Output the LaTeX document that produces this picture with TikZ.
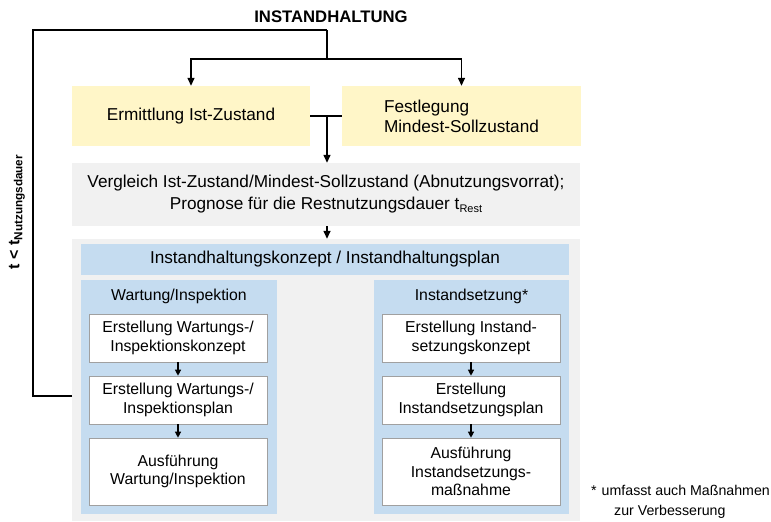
\documentclass[tikz,border=0pt]{standalone}
\usepackage{fontspec}
\setmainfont{Liberation Sans}
\usetikzlibrary{arrows.meta}
\definecolor{gelb}{RGB}{255,246,200}
\definecolor{grau}{RGB}{241,241,241}
\definecolor{hblau}{RGB}{197,220,240}
\definecolor{rahmen}{RGB}{160,160,160}

\begin{document}
\begin{tikzpicture}[
	x = 1pt, y = -1pt,
	every node/.style = {inner sep = 0pt, align = center, font = \fontsize{17.2}{20}\selectfont},
	feld/.style n args = {3}{fill = #1, minimum width = #2, minimum height = #3},
	klein/.style = {font = \fontsize{15.8}{18.5}\selectfont},
	weiss/.style = {fill = white, draw = rahmen, line width = 0.6pt, minimum width = 178pt, klein},
	linie/.style = {line width = 1.4pt},
	pfeil/.style = {linie, -{Triangle[length = 8pt, width = 7pt]}},
	pfeilk/.style = {line width = 1.2pt, -{Triangle[length = 6pt, width = 6pt]}}
	]

	\useasboundingbox (0,0) rectangle (771,522);

	\node[font = \bfseries\fontsize{16.7}{20}\selectfont] (titel) at (331,17) {INSTANDHALTUNG};

	\node[feld = {gelb}{238pt}{60pt}] (ist) at (191,116) {Ermittlung Ist-Zustand};
	\node[feld = {gelb}{239pt}{60pt}, align = left] (soll) at (461.5,116) {Festlegung\\Mindest-Sollzustand};

	\node[feld = {grau}{508pt}{63pt}, font = \fontsize{17.2}{22}\selectfont] (vergleich) at (326,194.5)
		{Vergleich Ist-Zustand/Mindest-Sollzustand (Abnutzungsvorrat);\\Prognose f\"ur die Restnutzungsdauer t\raisebox{-3pt}{\fontsize{11}{12}\selectfont Rest}};

	\node[feld = {grau}{508pt}{282pt}] (aussen) at (326,380) {};
	\node[feld = {hblau}{488pt}{31pt}] (konzept) at (325,259.5) {Instandhaltungskonzept / Instandhaltungsplan};

	\node[feld = {hblau}{196pt}{234pt}] (wspalte) at (179,397) {};
	\node[klein] (wtitel) at (179,296) {Wartung/Inspektion};
	\node[weiss, minimum height = 48pt] (w1) at (178,338) {Erstellung Wartungs-/\\Inspektionskonzept};
	\node[weiss, minimum height = 48pt] (w2) at (178,400) {Erstellung Wartungs-/\\Inspektionsplan};
	\node[weiss, minimum height = 67pt] (w3) at (178,471.5) {Ausf\"uhrung\\Wartung/Inspektion};

	\node[feld = {hblau}{195pt}{234pt}] (ispalte) at (471.5,397) {};
	\node[klein] (ititel) at (471.5,296) {Instandsetzung*};
	\node[weiss, minimum height = 48pt] (i1) at (471,338) {Erstellung Instand-\\setzungskonzept};
	\node[weiss, minimum height = 48pt] (i2) at (471,400) {Erstellung\\Instandsetzungsplan};
	\node[weiss, minimum height = 67pt] (i3) at (471,471.5) {Ausf\"uhrung\\Instandsetzungs-\\ma\ss nahme};

	\node[anchor = west, align = left, font = \fontsize{14.2}{20}\selectfont] (fussnote) at (591,502)
		{*\hspace{5pt}umfasst auch Ma\ss nahmen\\\hspace{23pt}zur Verbesserung};

	\node[rotate = 90, font = \bfseries\fontsize{16}{18}\selectfont] (dauer) at (17,212)
		{t < t\raisebox{-3pt}{\fontsize{11.7}{12}\selectfont Nutzungsdauer}};

	\coordinate (verz) at (327,30);
	\coordinate (split) at (327,59);
	\coordinate (ecke) at (33,30);
	\coordinate (rueck) at (72,396);

	\draw[linie] (verz) -- (split);
	\draw[pfeil] (split) -| (ist);
	\draw[pfeil] (split) -| (soll);
	\draw[linie] (rueck) -| (ecke) -- (verz);
	\draw[linie] (ist.east) -- (soll.west);
	\draw[pfeil] (ist.east -| verz) -- (verz |- vergleich.north);
	\draw[pfeil] (verz |- vergleich.south) -- (verz |- aussen.north);

	\draw[pfeilk] (w1) -- (w2);
	\draw[pfeilk] (w2) -- (w3);
	\draw[pfeilk] (i1) -- (i2);
	\draw[pfeilk] (i2) -- (i3);

\end{tikzpicture}
\end{document}
